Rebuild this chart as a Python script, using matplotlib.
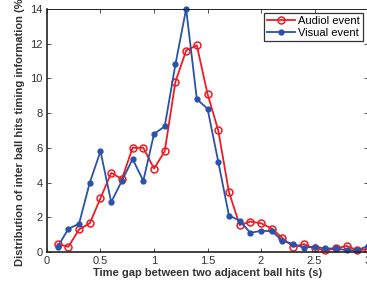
import matplotlib
matplotlib.use("Agg")
import matplotlib.pyplot as plt

# Time gap bins (s)
gap = [0.1, 0.2, 0.3, 0.4, 0.5, 0.6, 0.7, 0.8, 0.9, 1.0,
       1.1, 1.2, 1.3, 1.4, 1.5, 1.6, 1.7, 1.8, 1.9, 2.0,
       2.1, 2.2, 2.3, 2.4, 2.5, 2.6, 2.7, 2.8, 2.9, 3.0]

# Distribution (%)
audio = [0.45, 0.3, 1.3, 1.65, 3.1, 4.55, 4.2, 6.0, 6.0, 4.8,
         5.8, 9.8, 11.6, 11.9, 9.1, 7.0, 3.45, 1.55, 1.75, 1.65,
         1.35, 0.8, 0.3, 0.45, 0.2, 0.1, 0.2, 0.35, 0.1, 0.15]
visual = [0.3, 1.33, 1.63, 4.0, 5.8, 2.87, 4.1, 5.35, 4.1, 6.8,
          7.23, 10.8, 14.0, 8.8, 8.25, 5.2, 2.1, 1.8, 1.1, 1.22,
          1.2, 0.65, 0.45, 0.25, 0.3, 0.2, 0.2, 0.1, 0.1, 0.35]

plt.rcParams['font.family'] = ['Liberation Sans', 'DejaVu Sans']

fig = plt.figure(figsize=(3.67, 2.86), dpi=100)
ax = fig.add_axes([0.128, 0.119, 0.875, 0.85])

ax.plot(gap, audio, color='#ee1c24', lw=1.3, marker='o', ms=5,
        mfc='none', mec='#ee1c24', mew=1.1, label='Audiol event', clip_on=False)
ax.plot(gap, visual, color='#2a52a8', lw=1.3, marker='o', ms=3.5,
        mfc='#2a52a8', mec='#2a52a8', label='Visual event', clip_on=False)

ax.set_xlim(0, 3)
ax.set_ylim(0, 14)
ax.set_xticks([0, 0.5, 1, 1.5, 2, 2.5, 3])
ax.set_xticklabels(['0', '0.5', '1', '1.5', '2', '2.5', '3'])
ax.set_yticks(range(0, 15, 2))
ax.tick_params(direction='in', top=True, right=True, labelsize=8,
               length=3, width=0.6, colors='#333333', labelcolor='#333333', pad=3)
for s in ax.spines.values():
    s.set_linewidth(0.7)
    s.set_color('#222222')
ax.spines['bottom'].set_linewidth(1.2)
ax.spines['left'].set_linewidth(1.2)

ax.set_xlabel('Time gap between two adjacent ball hits (s)', fontsize=8,
              fontweight='bold', color='#333333', labelpad=1)
ax.set_ylabel('Distribution of inter ball hits timing information (%)', fontsize=8,
              fontweight='bold', color='#333333', labelpad=4)

leg = ax.legend(loc='upper right', bbox_to_anchor=(0.985, 0.985), fontsize=8,
                frameon=True, fancybox=False, borderpad=0.3, labelspacing=0.15,
                handlelength=2.5, handletextpad=0.3, borderaxespad=0)
leg.get_frame().set_edgecolor('black')
leg.get_frame().set_linewidth(0.9)

fig.savefig('out.png', dpi=100)
